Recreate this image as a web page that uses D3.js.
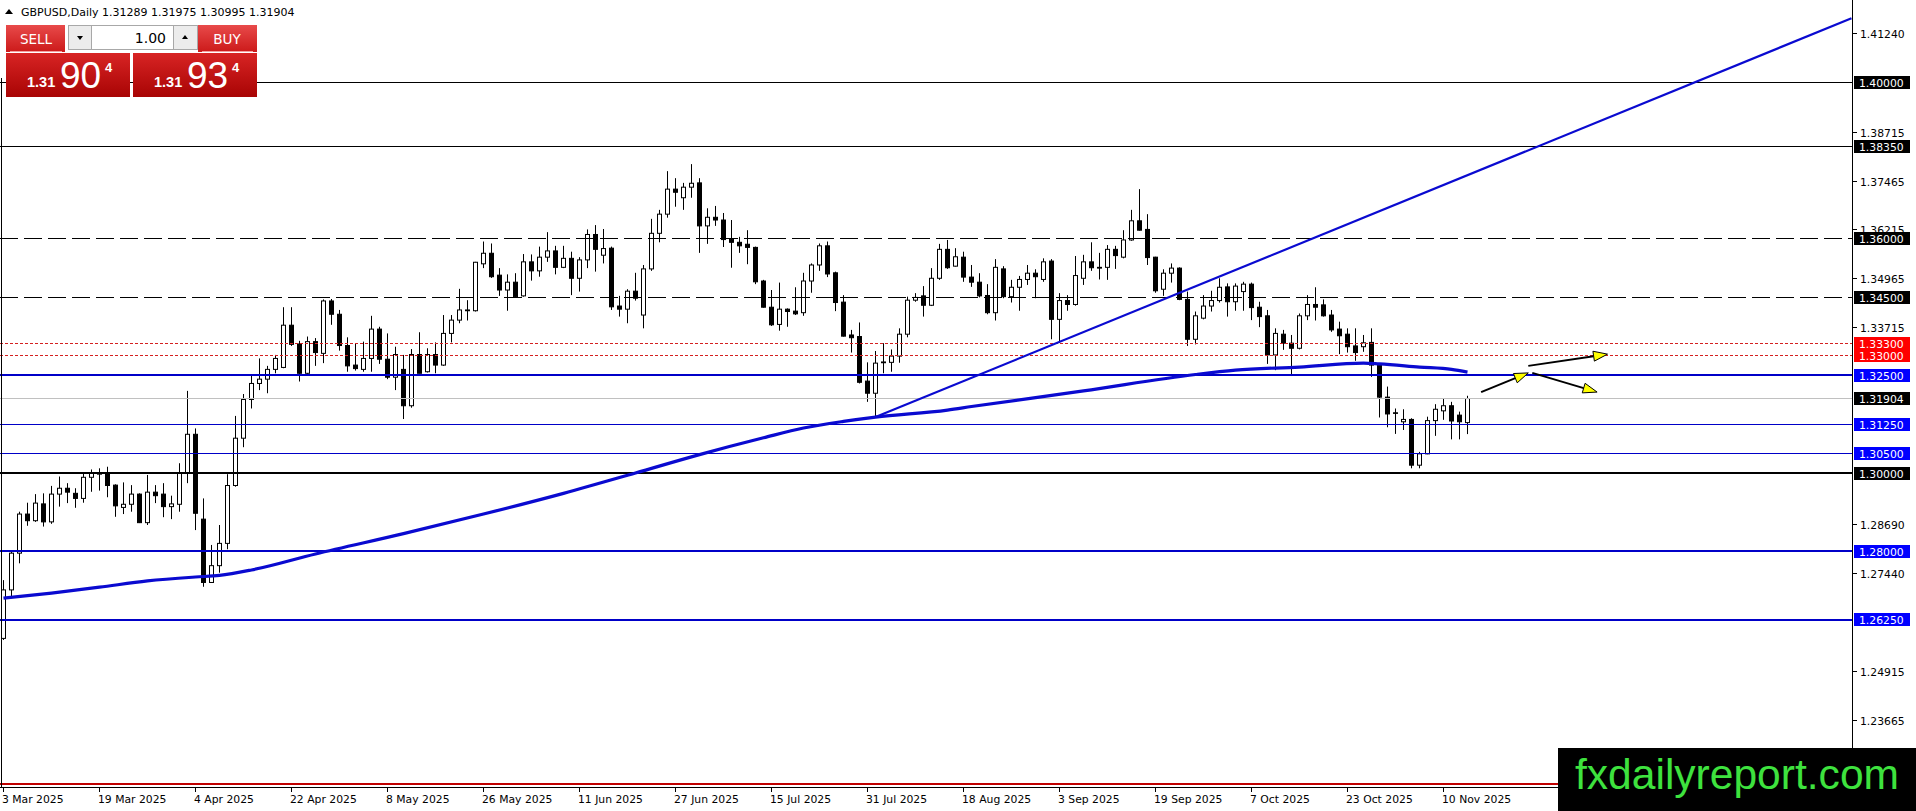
<!DOCTYPE html>
<html><head><meta charset="utf-8">
<script src="https://cdn.jsdelivr.net/npm/d3@7"></script>
<style>html,body{margin:0;padding:0;background:#fff;overflow:hidden}</style>
</head><body>
<svg id="c" width="1916" height="811"></svg>
<script>
// ---------- DATA ----------
const symbolTitle = "GBPUSD,Daily 1.31289 1.31975 1.30995 1.31904";
const opens = [1.2577,1.2701,1.2795,1.2895,1.2878,1.2921,1.2875,1.2946,1.2961,1.2948,1.2935,1.2989,1.2997,1.3001,1.2969,1.2912,1.2920,1.2946,1.2873,1.2951,1.2946,1.2914,1.2920,1.3001,1.3099,1.2882,1.2720,1.2763,1.2820,1.2968,1.3089,1.3188,1.3229,1.3240,1.3265,1.3270,1.3378,1.3330,1.3255,1.3336,1.3306,1.3440,1.3406,1.3326,1.3276,1.3265,1.3293,1.3368,1.3291,1.3245,1.3265,1.3172,1.3303,1.3259,1.3303,1.3276,1.3357,1.3391,1.3415,1.3415,1.3535,1.3562,1.3506,1.3468,1.3488,1.3453,1.3540,1.3517,1.3552,1.3568,1.3526,1.3549,1.3498,1.3545,1.3610,1.3557,1.3575,1.3427,1.3419,1.3465,1.3404,1.3522,1.3613,1.3662,1.3726,1.3704,1.3731,1.3742,1.3632,1.3654,1.3647,1.3598,1.3590,1.3585,1.3577,1.3491,1.3424,1.3380,1.3419,1.3414,1.3410,1.3491,1.3532,1.3581,1.3512,1.3437,1.3353,1.3349,1.3235,1.3204,1.3282,1.3283,1.3299,1.3355,1.3442,1.3453,1.3429,1.3498,1.3572,1.3529,1.3552,1.3501,1.3488,1.3454,1.3410,1.3522,1.3451,1.3475,1.3495,1.3511,1.3495,1.3542,1.3393,1.3441,1.3431,1.3498,1.3540,1.3526,1.3526,1.3572,1.3552,1.3596,1.3645,1.3623,1.3552,1.3470,1.3511,1.3524,1.3444,1.3342,1.3396,1.3427,1.3441,1.3476,1.3438,1.3464,1.3483,1.3424,1.3402,1.3302,1.3355,1.3332,1.3319,1.3402,1.3431,1.3430,1.3404,1.3368,1.3355,1.3325,1.3323,1.3334,1.3276,1.3194,1.3154,1.3131,1.3137,1.3020,1.3049,1.3134,1.3159,1.3172,1.3148,1.31289];
const highs = [1.2726,1.2803,1.2901,1.2924,1.2946,1.2948,1.2967,1.2991,1.2974,1.2961,1.3001,1.3009,1.3012,1.3016,1.2971,1.2976,1.2969,1.2948,1.2995,1.2969,1.2974,1.2942,1.3025,1.3210,1.3114,1.2935,1.2816,1.2867,1.2997,1.3146,1.3202,1.3251,1.3293,1.3274,1.3302,1.3424,1.3424,1.3338,1.3349,1.3345,1.3444,1.3445,1.3417,1.3347,1.3332,1.3336,1.3402,1.3374,1.3357,1.3323,1.3302,1.3317,1.3360,1.3319,1.3334,1.3404,1.3404,1.3471,1.3442,1.3540,1.3592,1.3587,1.3524,1.3508,1.3511,1.3560,1.3559,1.3579,1.3616,1.3581,1.3581,1.3566,1.3552,1.3623,1.3634,1.3624,1.3579,1.3453,1.3470,1.3512,1.3532,1.3650,1.3673,1.3772,1.3754,1.3742,1.3790,1.3754,1.3677,1.3683,1.3665,1.3647,1.3604,1.3621,1.3579,1.3494,1.3468,1.3487,1.3421,1.3475,1.3512,1.3536,1.3587,1.3592,1.3515,1.3455,1.3366,1.3385,1.3283,1.3312,1.3332,1.3316,1.3370,1.3451,1.3460,1.3478,1.3524,1.3586,1.3596,1.3575,1.3566,1.3532,1.3511,1.3483,1.3547,1.3529,1.3494,1.3504,1.3532,1.3521,1.3549,1.3547,1.3460,1.3455,1.3555,1.3558,1.3590,1.3563,1.3583,1.3581,1.3621,1.3673,1.3726,1.3662,1.3553,1.3521,1.3536,1.3526,1.3464,1.3413,1.3455,1.3466,1.3498,1.3485,1.3485,1.3489,1.3487,1.3438,1.3417,1.3370,1.3366,1.3353,1.3408,1.3455,1.3475,1.3444,1.3417,1.3387,1.3370,1.3370,1.3353,1.3370,1.3281,1.3221,1.3165,1.3163,1.3140,1.3054,1.3144,1.3176,1.3191,1.3182,1.3157,1.31975];
const lows = [1.2573,1.2685,1.2769,1.2865,1.2875,1.2863,1.2870,1.2914,1.2923,1.2911,1.2924,1.2952,1.2955,1.2938,1.2888,1.2895,1.2901,1.2872,1.2867,1.2923,1.2887,1.2882,1.2901,1.2974,1.2854,1.2709,1.2719,1.2745,1.2805,1.2965,1.3066,1.3165,1.3212,1.3204,1.3255,1.3268,1.3325,1.3234,1.3253,1.3274,1.3281,1.3379,1.3313,1.3259,1.3262,1.3259,1.3259,1.3279,1.3240,1.3212,1.3138,1.3167,1.3255,1.3257,1.3255,1.3274,1.3334,1.3383,1.3390,1.3413,1.3524,1.3499,1.3453,1.3415,1.3449,1.3451,1.3492,1.3502,1.3540,1.3508,1.3524,1.3455,1.3464,1.3524,1.3515,1.3536,1.3417,1.3400,1.3383,1.3441,1.3370,1.3517,1.3590,1.3653,1.3681,1.3673,1.3704,1.3563,1.3586,1.3632,1.3578,1.3525,1.3563,1.3534,1.3483,1.3423,1.3376,1.3364,1.3374,1.3404,1.3402,1.3461,1.3517,1.3501,1.3414,1.3349,1.3308,1.3229,1.3182,1.3143,1.3255,1.3259,1.3282,1.3347,1.3438,1.3400,1.3427,1.3494,1.3522,1.3528,1.3489,1.3476,1.3449,1.3406,1.3390,1.3447,1.3436,1.3415,1.3481,1.3447,1.3489,1.3342,1.3333,1.3415,1.3428,1.3481,1.3517,1.3495,1.3494,1.3522,1.3549,1.3594,1.3620,1.3532,1.3461,1.3453,1.3487,1.3442,1.3325,1.3329,1.3393,1.3413,1.3436,1.3400,1.3415,1.3415,1.3391,1.3373,1.3279,1.3263,1.3315,1.3248,1.3316,1.3391,1.3390,1.3400,1.3361,1.3304,1.3308,1.3287,1.3310,1.3246,1.3142,1.3117,1.3100,1.3110,1.3012,1.3012,1.3048,1.3095,1.3136,1.3086,1.3086,1.30995];
const closes = [1.2701,1.2795,1.2895,1.2878,1.2923,1.2875,1.2946,1.2961,1.2951,1.2935,1.2989,1.2999,1.3001,1.2968,1.2916,1.2920,1.2946,1.2873,1.2951,1.2942,1.2914,1.2921,1.3001,1.3099,1.2897,1.2720,1.2763,1.2820,1.2968,1.3089,1.3188,1.3229,1.3240,1.3265,1.3293,1.3378,1.3329,1.3255,1.3336,1.3308,1.3440,1.3406,1.3326,1.3274,1.3267,1.3293,1.3368,1.3291,1.3245,1.3303,1.3172,1.3303,1.3255,1.3303,1.3276,1.3357,1.3391,1.3417,1.3417,1.3539,1.3562,1.3502,1.3468,1.3488,1.3451,1.3540,1.3517,1.3552,1.3568,1.3526,1.3549,1.3498,1.3545,1.3610,1.3572,1.3574,1.3425,1.3419,1.3465,1.3447,1.3522,1.3613,1.3662,1.3726,1.3718,1.3731,1.3741,1.3632,1.3654,1.3647,1.3597,1.3590,1.3581,1.3577,1.3489,1.3424,1.3379,1.3419,1.3413,1.3407,1.3491,1.3532,1.3581,1.3509,1.3436,1.3350,1.3346,1.3232,1.3204,1.3281,1.3284,1.3299,1.3355,1.3442,1.3449,1.3429,1.3498,1.3572,1.3525,1.3553,1.3501,1.3488,1.3453,1.3410,1.3526,1.3451,1.3475,1.3495,1.3511,1.3502,1.3540,1.3393,1.3441,1.3431,1.3505,1.3540,1.3525,1.3524,1.3572,1.3556,1.3596,1.3645,1.3621,1.3551,1.3466,1.3511,1.3524,1.3444,1.3342,1.3402,1.3427,1.3441,1.3475,1.3438,1.3478,1.3483,1.3423,1.3400,1.3302,1.3357,1.3332,1.3319,1.3402,1.3431,1.3424,1.3402,1.3366,1.3351,1.3323,1.3308,1.3333,1.3276,1.3194,1.3151,1.3153,1.3137,1.3020,1.3049,1.3134,1.3163,1.3172,1.3133,1.3131,1.31904];

const tickBars = [0,12,24,36,48,60,72,84,96,108,120,132,144,156,168,180];
const tickLabels = ["3 Mar 2025","19 Mar 2025","4 Apr 2025","22 Apr 2025","8 May 2025","26 May 2025","11 Jun 2025","27 Jun 2025","15 Jul 2025","31 Jul 2025","18 Aug 2025","3 Sep 2025","19 Sep 2025","7 Oct 2025","23 Oct 2025","10 Nov 2025"];
const priceTicks = ["1.41240","1.38715","1.37465","1.36215","1.34965","1.33715","1.28690","1.27440","1.24915","1.23665"];

const levelPrices = [1.40000,1.38350,1.36000,1.34500,1.33300,1.33000,1.32500,1.31904,1.31250,1.30500,1.30000,1.28000,1.26250,1.22050];
const levelKinds  = ["solid","solid","dash","dash","dot","dot","blueThick","bid","blueThin","blueThin","blackThick","blueThick","blueThick","redSolid"];
const levelLabels = ["1.40000","1.38350","1.36000","1.34500","1.33300","1.33000","1.32500","1.31904","1.31250","1.30500","1.30000","1.28000","1.26250",""];

const maBars   = [0,6,12,18,24,27,31,39,50,60,70,79,87,95,100,105,109,118,121,135,149,154,162,170,172,177,181,183];
const maValues = [1.2680,1.2693,1.2708,1.2724,1.2734,1.2738,1.2752,1.2793,1.2845,1.2895,1.2948,1.3000,1.3047,1.3090,1.3115,1.3132,1.3143,1.3161,1.3170,1.3210,1.3252,1.3263,1.3271,1.3281,1.3279,1.3271,1.3265,1.3258];

const trendBars = [109, 231];
const trendPrices = [1.3143, 1.4163];

const arrowFromBars = [184.7, 190.6, 191.1];
const arrowFromPrices = [1.3207, 1.3274, 1.3256];
const arrowToBars = [190.6, 200.5, 199.2];
const arrowToPrices = [1.3256, 1.3304, 1.3207];

const bidText = {big:"90", small:"1.31", pip:"4"};
const askText = {big:"93", small:"1.31", pip:"4"};
const lotText = "1.00";
const watermark = "fxdailyreport.com";

// ---------- STYLES ----------
const styles = {
  solid:      {stroke:"#000", w:1, dash:null, box:"#000"},
  dash:       {stroke:"#000", w:1, dash:"18,6", box:"#000"},
  dot:        {stroke:"#d42020", w:1, dash:"3,2", box:"#ff0000"},
  blueThick:  {stroke:"#0000c8", w:2, dash:null, box:"#0000ff"},
  blueThin:   {stroke:"#0000c8", w:1, dash:null, box:"#0000ff"},
  bid:        {stroke:"#c0c0c0", w:1, dash:null, box:"#000"},
  blackThick: {stroke:"#000", w:2, dash:null, box:"#000"},
  redSolid:   {stroke:"#c00000", w:1.5, dash:null, box:null}
};
const FONT = "'DejaVu Sans', Verdana, sans-serif";

// ---------- CHART ----------
const svg = d3.select("#c");
const plotRight = 1852, axisY = 787;
const x = d3.scaleLinear().domain([0, 1]).range([3.5, 11.5]);
const y = d3.scaleLinear().domain([1.3, 1.4]).range([473, 82]);
const crisp = (v, w) => (w % 2 === 1 ? Math.round(v - 0.5) + 0.5 : Math.round(v));

const defs = svg.append("defs");
defs.append("clipPath").attr("id","plot").append("rect").attr("x",0).attr("y",0).attr("width",plotRight).attr("height",axisY);
function grad(id, c1, c2){
  const g = defs.append("linearGradient").attr("id",id).attr("x1",0).attr("y1",0).attr("x2",0).attr("y2",1);
  g.append("stop").attr("offset","0%").attr("stop-color",c1);
  g.append("stop").attr("offset","100%").attr("stop-color",c2);
}
grad("gTop","#e84a4a","#cc1a1a");
grad("gBig","#d82424","#a80404");

svg.append("rect").attr("width",1916).attr("height",811).attr("fill","#fff");

const plot = svg.append("g").attr("clip-path","url(#plot)");

// candles
const idx = d3.range(opens.length);
const cg = plot.append("g");
cg.selectAll("line.wick").data(idx).join("line")
  .attr("x1", i => x(i)).attr("x2", i => x(i))
  .attr("y1", i => y(highs[i])).attr("y2", i => y(lows[i]))
  .attr("stroke","#000").attr("stroke-width",1);
cg.selectAll("rect.body").data(idx).join("rect")
  .attr("x", i => x(i) - 2).attr("width", 4)
  .attr("y", i => y(Math.max(opens[i], closes[i])))
  .attr("height", i => Math.max(0.6, Math.abs(y(opens[i]) - y(closes[i]))))
  .attr("fill", i => closes[i] >= opens[i] ? "#fff" : "#000")
  .attr("stroke","#000").attr("stroke-width",1);

// horizontal levels
levelPrices.forEach((p, k) => {
  const s = styles[levelKinds[k]];
  const yy = crisp(y(p), s.w);
  const ln = plot.append("line").attr("x1",0).attr("x2",plotRight).attr("y1",yy).attr("y2",yy)
    .attr("stroke",s.stroke).attr("stroke-width",s.w).attr("shape-rendering","crispEdges");
  if (s.dash) ln.attr("stroke-dasharray", s.dash);
});

// moving average
plot.append("path")
  .attr("d", d3.line().x((d,k) => x(maBars[k])).y((d,k) => y(maValues[k])).curve(d3.curveMonotoneX)(maBars))
  .attr("fill","none").attr("stroke","#0a0ad0").attr("stroke-width",3.2);

// trendline
plot.append("line")
  .attr("x1", x(trendBars[0])).attr("y1", y(trendPrices[0]))
  .attr("x2", x(trendBars[1])).attr("y2", y(trendPrices[1]))
  .attr("stroke","#0a0ad0").attr("stroke-width",2.2);

// arrows
arrowFromBars.forEach((b, k) => {
  const x1 = x(b), y1 = y(arrowFromPrices[k]), x2 = x(arrowToBars[k]), y2 = y(arrowToPrices[k]);
  const dx = x2 - x1, dy = y2 - y1, L = Math.hypot(dx, dy), ux = dx / L, uy = dy / L;
  const hl = 14, hw = 5;
  const bx = x2 - ux * hl, by = y2 - uy * hl;
  plot.append("line").attr("x1",x1).attr("y1",y1).attr("x2",bx).attr("y2",by)
    .attr("stroke","#000").attr("stroke-width",2);
  plot.append("path")
    .attr("d", `M${x2},${y2}L${bx - uy*hw},${by + ux*hw}L${bx + uy*hw},${by - ux*hw}Z`)
    .attr("fill","#ffff00").attr("stroke","#000").attr("stroke-width",1);
});

// left border
svg.append("line").attr("x1",1.5).attr("x2",1.5).attr("y1",78).attr("y2",axisY)
  .attr("stroke","#000").attr("stroke-width",1);

// right axis
svg.append("line").attr("x1",plotRight+0.5).attr("x2",plotRight+0.5).attr("y1",0).attr("y2",axisY)
  .attr("stroke","#000").attr("stroke-width",1);
const ra = svg.append("g");
priceTicks.forEach(t => {
  const yy = crisp(y(+t), 1);
  ra.append("line").attr("x1",plotRight).attr("x2",plotRight+5).attr("y1",yy).attr("y2",yy).attr("stroke","#000");
  ra.append("text").attr("x",1860).attr("y",yy+4).text(t)
    .attr("font-family",FONT).attr("font-size","10.8px").attr("fill","#000");
});
levelPrices.forEach((p, k) => {
  const s = styles[levelKinds[k]];
  if (!s.box || !levelLabels[k]) return;
  const yy = y(p);
  ra.append("rect").attr("x",plotRight+2).attr("y",Math.round(yy-6.5)).attr("width",56).attr("height",13).attr("fill",s.box);
  ra.append("text").attr("x",1859).attr("y",Math.round(yy-6.5)+10.5).text(levelLabels[k])
    .attr("font-family",FONT).attr("font-size","10.8px").attr("fill","#fff");
});

// bottom axis
svg.append("line").attr("x1",0).attr("x2",plotRight+1).attr("y1",axisY+0.5).attr("y2",axisY+0.5).attr("stroke","#000");
const ba = svg.append("g");
tickBars.forEach((b, k) => {
  const xx = crisp(x(b), 1);
  ba.append("line").attr("x1",xx).attr("x2",xx).attr("y1",axisY).attr("y2",axisY+5).attr("stroke","#000");
  ba.append("text").attr("x",xx-1.5).attr("y",803).text(tickLabels[k])
    .attr("font-family",FONT).attr("font-size","10.8px").attr("fill","#000");
});

// header
svg.append("path").attr("d","M5,14L9,9L13,14Z").attr("fill","#000");
svg.append("text").attr("x",21).attr("y",16).text(symbolTitle)
  .attr("font-family",FONT).attr("font-size","11px").attr("fill","#000");

// trade panel
const pn = svg.append("g");
const ARIAL = "'Liberation Sans', Arial, sans-serif";
pn.append("rect").attr("x",6).attr("y",25).attr("width",59).attr("height",27).attr("fill","url(#gTop)");
pn.append("rect").attr("x",198).attr("y",25).attr("width",59).attr("height",27).attr("fill","url(#gTop)");
pn.append("line").attr("x1",10).attr("x2",62).attr("y1",51.5).attr("y2",51.5).attr("stroke","#f4a0a0");
pn.append("line").attr("x1",202).attr("x2",253).attr("y1",51.5).attr("y2",51.5).attr("stroke","#f4a0a0");
pn.append("text").attr("x",36).attr("y",44).attr("text-anchor","middle").text("SELL")
  .attr("font-family",FONT).attr("font-size","13.5px").attr("fill","#fff");
pn.append("text").attr("x",227).attr("y",44).attr("text-anchor","middle").text("BUY")
  .attr("font-family",FONT).attr("font-size","13.5px").attr("fill","#fff");
pn.append("rect").attr("x",68.5).attr("y",25.5).attr("width",129).attr("height",24).attr("fill","#fff").attr("stroke","#a8a8a8");
pn.append("rect").attr("x",68.5).attr("y",25.5).attr("width",23).attr("height",24).attr("fill","#ececec").attr("stroke","#a8a8a8");
pn.append("rect").attr("x",173.5).attr("y",25.5).attr("width",24).attr("height",24).attr("fill","#ececec").attr("stroke","#a8a8a8");
pn.append("path").attr("d","M77,36L83,36L80,40Z").attr("fill","#000");
pn.append("path").attr("d","M182,39L188,39L185,35Z").attr("fill","#000");
pn.append("text").attr("x",166).attr("y",43).attr("text-anchor","end").text(lotText)
  .attr("font-family",FONT).attr("font-size","14px").attr("fill","#000");
[[6,bidText],[133,askText]].forEach(([bx, t]) => {
  pn.append("rect").attr("x",bx).attr("y",53).attr("width",124).attr("height",44).attr("fill","url(#gBig)");
  pn.append("text").attr("x",bx+21).attr("y",87).text(t.small)
    .attr("font-family",ARIAL).attr("font-weight","bold").attr("font-size","14.5px").attr("fill","#fff");
  pn.append("text").attr("x",bx+54).attr("y",88).text(t.big)
    .attr("font-family",ARIAL).attr("font-size","37px").attr("fill","#fff");
  pn.append("text").attr("x",bx+99).attr("y",72).text(t.pip)
    .attr("font-family",ARIAL).attr("font-weight","bold").attr("font-size","13px").attr("fill","#fff");
});

// watermark
svg.append("rect").attr("x",1558).attr("y",748).attr("width",358).attr("height",63).attr("fill","#000");
svg.append("text").attr("x",1575).attr("y",789).text(watermark)
  .attr("font-family",ARIAL).attr("font-size","42px").attr("fill","#3ee23e")
  .attr("textLength",324).attr("lengthAdjust","spacingAndGlyphs");
</script>
</body></html>
